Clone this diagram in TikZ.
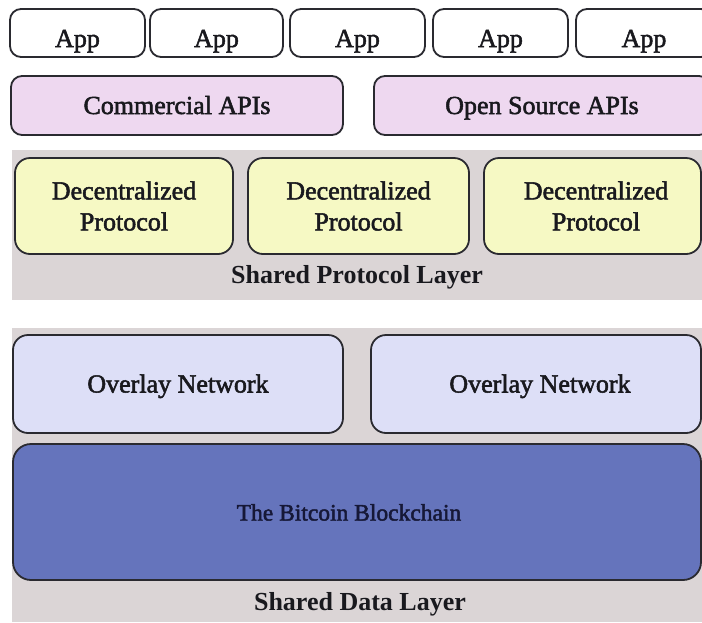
\documentclass[tikz,border=0pt]{standalone}
\usepackage{fontspec}
\setmainfont{Liberation Serif}
\newfontfamily\heavy{Liberation Serif}[FakeBold=2]
\definecolor{bggray}{RGB}{219,213,214}
\definecolor{apifill}{RGB}{238,216,240}
\definecolor{protofill}{RGB}{246,249,196}
\definecolor{overfill}{RGB}{221,223,247}
\definecolor{chainfill}{RGB}{101,116,188}
\definecolor{edge}{RGB}{42,42,48}
\definecolor{txt}{RGB}{25,25,30}
\definecolor{chaintxt}{RGB}{22,24,55}
\tikzset{
  box/.style={draw=edge, line width=1.8pt, rounded corners=11pt, inner sep=0pt,
    align=center, text=txt, font=\heavy\fontsize{26}{31}\selectfont},
  single/.style={text height=20pt, text depth=3pt},
  appbox/.style={box, fill=white, minimum height=48pt, text height=30pt, text depth=2pt},
  apibox/.style={box, single, fill=apifill, minimum height=59pt},
  protobox/.style={box, fill=protofill, minimum height=96pt, rounded corners=15pt},
  overbox/.style={box, single, fill=overfill, minimum height=98pt, rounded corners=15pt},
  chainbox/.style={box, single, fill=chainfill, minimum height=136pt, rounded corners=18pt,
    text=chaintxt, font=\heavy\fontsize{23.5}{28}\selectfont},
  layerlabel/.style={text=txt, font=\bfseries\fontsize{26}{29}\selectfont, inner sep=0pt}
}
\begin{document}
\begin{tikzpicture}[x=1pt,y=-1pt]
\useasboundingbox (0,0) rectangle (702,622);
\fill[white] (0,0) rectangle (702,622);
% layer backgrounds
\fill[bggray] (12,150) rectangle (702,300);
\fill[bggray] (12,328) rectangle (702,622);
% apps
\node[appbox, minimum width=135pt] (a1) at (77.5,33) {App};
\node[appbox, minimum width=133pt] (a2) at (216.5,33) {App};
\node[appbox, minimum width=135pt] (a3) at (357.5,33) {App};
\node[appbox, minimum width=135pt] (a4) at (500.5,33) {App};
\node[appbox, minimum width=136pt] (a5) at (644,33) {App};
% APIs
\node[apibox, minimum width=332pt] (api1) at (177,105.5) {Commercial APIs};
\node[apibox, minimum width=336pt] (api2) at (542,105.5) {Open Source APIs};
% protocols
\node[protobox, minimum width=218pt] (p1) at (124,206) {Decentralized\\Protocol};
\node[protobox, minimum width=221pt] (p2) at (358.5,206) {Decentralized\\Protocol};
\node[protobox, minimum width=217pt] (p3) at (592.5,206) {\hspace*{7pt}Decentralized\\\hspace*{7pt}Protocol};
\node[layerlabel] (spl) at (357,277) {Shared Protocol Layer};
% overlay networks
\node[overbox, minimum width=330pt] (o1) at (178,384) {Overlay Network};
\node[overbox, minimum width=330pt] (o2) at (536,384) {\hspace*{8pt}Overlay Network};
% blockchain
\node[chainbox, minimum width=688pt] (bc) at (357,512) {\hspace*{-16pt}The Bitcoin Blockchain};
\node[layerlabel] (sdl) at (360,604) {Shared Data Layer};
\end{tikzpicture}
\end{document}
